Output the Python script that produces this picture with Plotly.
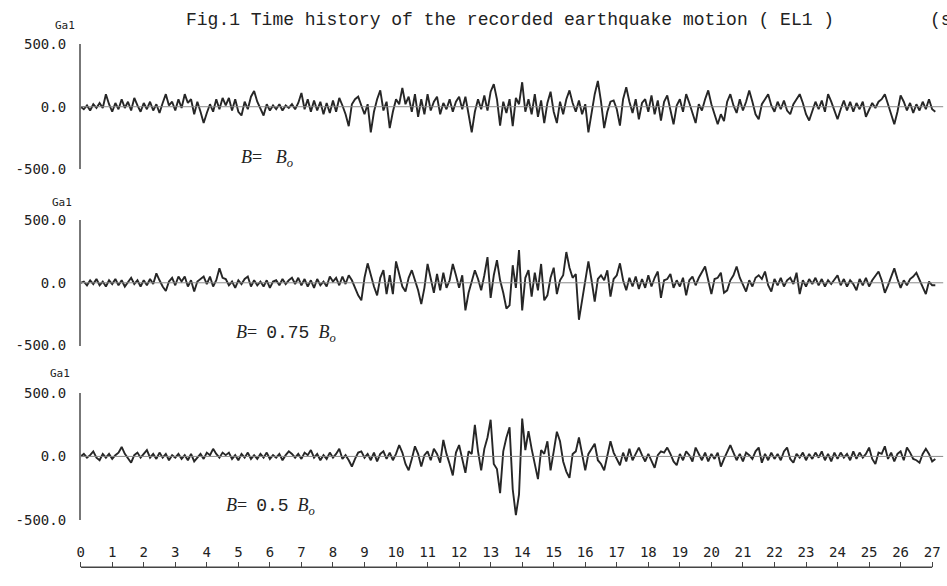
import plotly.graph_objects as go

accel_b100 = [
    0, -20, 10, -30, 20, -10, 30, -10, 100, 20,
    -40, 30, -20, 60, -10, 40, -30, 70, 10, -40,
    30, -20, 40, -30, 20, -50, 30, 100, 10, 40,
    -30, 60, -10, 100, 30, 60, -60, 40, -40, -130,
    -50, 20, -40, 60, -20, 70, 10, 70, -30, 60,
    -40, -70, 40, -20, 80, 125, 40, -20, -70, 20,
    -30, 10, -20, 20, -30, 10, -10, 20, -20, 30,
    110, -20, 60, -40, 50, -30, 40, -60, 30, -50,
    50, -40, 70, 10, -60, -155, 20, 60, 80, 10,
    -60, 20, -205, -40, 60, 130, -30, 40, -170, -40,
    60, 20, 150, 20, 80, -40, 100, -80, 60, -60,
    100, -30, 40, 80, -60, 30, -20, 60, -40, 40,
    80, -20, 80, -60, -205, -40, 60, -20, 90, -30,
    120, 180, 60, -150, 40, -50, 60, -155, 70, 20,
    195, -40, 60, -60, 100, -80, 50, -130, 30, 120,
    -40, -130, 40, -60, 60, 130, 30, -40, 50, -60,
    20, -205, -40, 100, 205, 40, -170, -40, 40, 50,
    -20, -150, 60, 155, 40, -50, 60, -100, 30, 60,
    -40, 90, -60, 50, -110, 40, 90, -40, -140, 10,
    60, -40, 100, 30, -60, -130, 20, -30, 60, 130,
    20, -60, -140, -60, -115, 40, 100, 10, -50, 60,
    -30, 40, 130, 40, -60, -100, 20, 60, 100, 10,
    -40, 40, -20, 50, -30, -60, 20, 60, 100, 30,
    -60, -110, -30, 40, -20, 50, -40, 100, 40, -30,
    -100, -20, 50, -30, 40, -40, 30, -20, 40, -80,
    -30, 30, -10, 40, 60, 100, 20, -60, -140, -40,
    90, 40, -30, 30, -50, 20, -30, 40, -20, 60,
    -20, -40,
]

accel_b075 = [
    0, 10, -20, 20, -10, 30, -20, 10, -30, 20,
    -10, 30, -20, 20, -30, 10, 40, -10, 20, -30,
    20, -20, 30, -10, 75, 20, -30, -65, 10, 40,
    -20, 50, 10, 50, -30, 20, -70, 10, 30, 50,
    -10, 50, -30, 20, 115, 40, 30, -20, 10, -40,
    20, -10, 30, 50, -30, 20, -20, 10, -30, 20,
    -40, 10, 20, -20, 30, -10, 20, 40, -10, 40,
    -20, 30, -30, 20, -40, 30, -20, 10, -30, 50,
    10, 40, -20, 50, -10, 60, 20, -40, -100, -140,
    40, 155, 60, -30, -100, 40, 100, -90, 60, -90,
    170, 60, -30, -70, 40, 100, 20, -60, -170, -40,
    150, 30, -80, 70, -60, 80, -40, 20, 150, 60,
    -40, 60, -220, -80, 20, 100, 30, -60, 60, 205,
    -120, 60, 180, 20, -80, -205, -180, 140, -40, 260,
    -220, 40, 100, -110, 80, -60, 150, -140, -100, 40,
    120, -90, 20, 60, 245, 120, 40, 70, -295, -130,
    40, 170, 20, -150, 30, 60, 20, 100, -110, 30,
    60, 155, 20, -60, 40, -30, 50, -50, 30, -40,
    60, -30, 40, 90, -120, 20, 30, 70, -40, 20,
    -30, 40, -100, 20, 50, -20, 40, 80, 130, 20,
    -90, 30, 40, 80, -80, -60, 20, 60, 130, 40,
    -20, -70, 20, -30, 40, 60, 30, 90, -20, -70,
    30, -20, 40, -30, 20, 40, -10, 80, -90, 20,
    -30, 30, -10, 40, -20, 30, -30, 20, -10, 30,
    60, -20, 30, -30, 20, -10, -60, 30, -20, 40,
    -30, 20, 60, 90, 20, -80, -20, 40, 115, 30,
    -40, 20, -20, 30, 50, 80, 20, -30, -90, 10,
    -20, -20,
]

accel_b050 = [
    0, 20, -10, 10, 40, -10, -30, 20, -10, 20,
    -20, 10, 30, 75, 20, -20, -50, 10, 30, -10,
    20, 50, -10, 20, -20, 30, -10, 20, -30, 10,
    -10, 20, -20, 10, -30, 20, -40, -10, 20, -20,
    30, 10, 60, 20, -10, 30, 10, 30, -20, 10,
    -30, 20, -10, 30, -20, 10, -20, 20, -10, 30,
    -20, 10, -10, 20, -30, 10, 40, 20, -10, 20,
    -20, 30, 10, 50, -10, 20, -30, 10, -20, 30,
    -10, 20, 60, -20, 10, -30, -80, -20, 30, 40,
    -10, 20, -30, 30, -40, 20, 40, -20, 30, -30,
    20, 90, 30, -60, -110, -20, 80, 20, -80, 10,
    40, -30, 60, 20, -50, 130, 20, -60, -150, 30,
    90, -20, -130, 40, 20, 250, 40, -110, 60, 150,
    290, -60, -100, -290, 40, 150, 230, -260, -465, -300,
    300, 50, 200, 60, -60, -180, 50, 20, 120, -110,
    40, 195, 120, -40, -120, -170, 20, 40, 150, 30,
    -110, 20, 60, 100, -30, -60, -110, 20, 120, 30,
    -20, -70, 30, -40, 60, -30, 20, 70, 10, -40,
    20, -30, -90, 10, 40, 30, 70, 20, -40, -70,
    20, -30, 40, 10, -40, 70, 20, -30, 30, -40,
    20, -20, 30, -80, -20, 40, 90, 30, -30, 20,
    -40, 30, 10, -20, 40, 70, -50, 20, -30, 30,
    -20, 20, -30, 40, 70, -20, -50, 20, -10, 30,
    -30, 20, -20, 30, -10, 40, -30, 20, -40, 30,
    -20, 30, -10, 20, -30, 40, -20, 30, -10, 20,
    70, -20, -60, 30, 20, 80, -20, 30, -40, 20,
    40, -30, 70, 30, -20, -30, -50, 20, 60, 20,
    -40, -20,
]

DT = 0.1
x_ticks = list(range(0, 28))
y_ticks = [-500, 0, 500]
y_tick_text = ["-500.0", "0.0", "500.0"]
MONO = "<span style='font-family:Liberation Mono'>"
panel_labels = [
    "<i>B</i>=&nbsp;&nbsp; <i>B<sub>o</sub></i>",
    "<i>B</i>=&nbsp; " + MONO + "0.75</span>&nbsp; <i>B<sub>o</sub></i>",
    "<i>B</i>=&nbsp; " + MONO + "0.5</span>&nbsp; <i>B<sub>o</sub></i>",
]
series = [accel_b100, accel_b075, accel_b050]

W, H = 947, 586
X0, X1 = 77, 945
PX_PER_S = 31.67
x_range = [0, (X1 - X0) / PX_PER_S]
# pixel rows of +500 / -500 for each panel
panel_px = [(37, 166), (218, 347), (396, 526)]
label_px = [(236, 155), (231, 335), (221, 512)]
ga_px = [(61, 18), (58, 200), (56, 376)]

fig = go.Figure()
axis_names = ["y", "y2", "y3"]
for i, vals in enumerate(series):
    t = [round(k * DT, 2) for k in range(len(vals))]
    fig.add_trace(go.Scatter(
        x=t, y=vals, mode="lines", xaxis="x", yaxis=axis_names[i],
        line=dict(color="#262626", width=1.9), showlegend=False,
        hoverinfo="skip"))

layout = dict(
    width=W, height=H,
    margin=dict(l=0, r=0, t=0, b=0),
    paper_bgcolor="white", plot_bgcolor="rgba(0,0,0,0)",
    showlegend=False,
    xaxis=dict(
        domain=[X0 / W, X1 / W], range=x_range,
        anchor="free", position=1 - 575 / H, side="top",
        tickvals=x_ticks, ticktext=[str(v) for v in x_ticks],
        ticks="outside", ticklen=5, tickwidth=1.2, tickcolor="#444",
        showline=False, showgrid=False, zeroline=False,
        tickfont=dict(family="DejaVu Sans Mono", size=14, color="#222"),
    ),
)
for i, (top, bot) in enumerate(panel_px):
    key = "yaxis" if i == 0 else f"yaxis{i + 1}"
    layout[key] = dict(
        domain=[1 - bot / H, 1 - top / H], range=[-500, 500],
        anchor="x", tickvals=y_ticks, ticktext=y_tick_text,
        ticks="inside", ticklen=6, tickwidth=1.2, tickcolor="#777",
        showline=True, linecolor="#777", linewidth=1.5,
        showgrid=False, zeroline=False, ticklabelstandoff=10,
        tickfont=dict(family="DejaVu Sans Mono", size=14, color="#222"),
    )
fig.update_layout(**layout)

shapes = []
for i in range(3):
    shapes.append(dict(type="line", xref="x", yref=axis_names[i],
                       x0=0, x1=27.35, y0=0, y1=0,
                       line=dict(color="#8a8a8a", width=1)))
shapes.append(dict(type="line", xref="x", yref="paper", x0=0, x1=27,
                   y0=1 - 575 / H, y1=1 - 575 / H,
                   line=dict(color="#444", width=1.5)))
fig.update_layout(shapes=shapes)

ann = []
ann.append(dict(text="Fig.1 Time history of the recorded earthquake motion ( EL1 )",
                x=508 / W, y=1 - 12 / H, xref="paper", yref="paper",
                showarrow=False, xanchor="center", yanchor="middle",
                font=dict(family="Liberation Mono", size=18, color="#222")))
ann.append(dict(text="(s)", x=928 / W, y=1 - 12 / H, xref="paper", yref="paper",
                showarrow=False, xanchor="left", yanchor="middle",
                font=dict(family="Liberation Mono", size=18, color="#222")))
for i in range(3):
    gx, gy = ga_px[i]
    ann.append(dict(text="Ga1", x=gx / W, y=1 - gy / H, xref="paper", yref="paper",
                    showarrow=False, xanchor="center", yanchor="middle",
                    font=dict(family="DejaVu Sans Mono", size=11, color="#222")))
    lx, ly = label_px[i]
    ann.append(dict(text=panel_labels[i], x=lx / W, y=1 - ly / H,
                    xref="paper", yref="paper", showarrow=False,
                    xanchor="left", yanchor="middle",
                    font=dict(family="Liberation Serif", size=18, color="#222")))
fig.update_layout(annotations=ann)

fig.write_html(
    "out.html",
    config={"displayModeBar": False},
    post_script="document.body.style.margin='0';document.body.style.overflow='hidden';",
)
